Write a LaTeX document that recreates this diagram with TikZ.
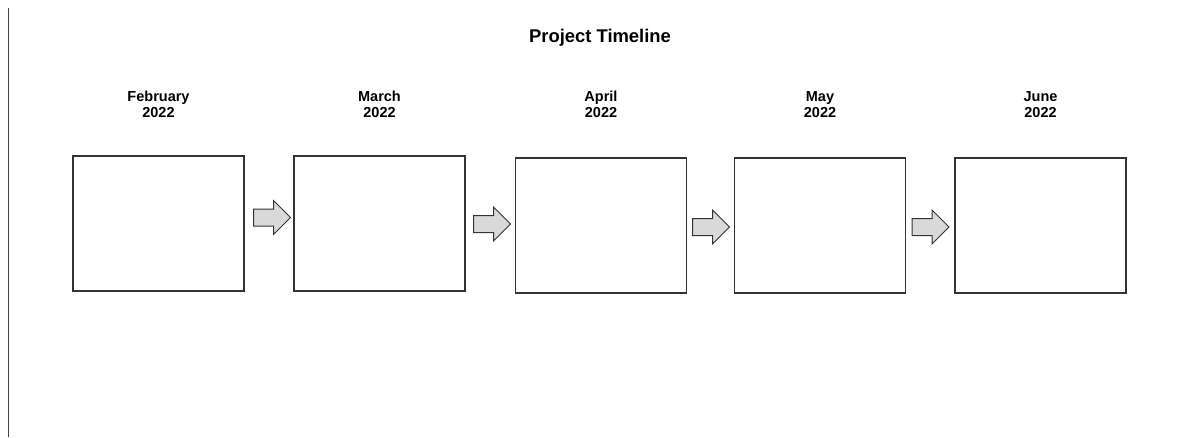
\documentclass[tikz,border=0pt]{standalone}
\usepackage{fontspec}
\setmainfont{Liberation Sans}
\definecolor{frame}{HTML}{333333}
\definecolor{arrowfill}{HTML}{D9D9D9}
\definecolor{rule}{HTML}{444444}
\tikzset{
  period/.style={draw=frame, line width=1.1pt, fill=white, rectangle, inner sep=0pt,
    minimum width=171pt, minimum height=135pt},
  monthlabel/.style={inner sep=0pt, align=center, font=\fontsize{14.5}{16.5}\selectfont\bfseries},
  titlelabel/.style={inner sep=0pt, font=\fontsize{18.4}{22}\selectfont\bfseries},
  stepper/.style={draw=frame, fill=arrowfill, line width=1pt, line join=miter}
}
% block arrow centred on a named coordinate: body 20 x 17, head 17 long, 34 wide
\newcommand{\blockarrow}[1]{%
  \draw[stepper] (#1) ++(-18.5,-8.5) -- ++(20,0) -- ++(0,-8.5) -- ++(17,17)
    -- ++(-17,17) -- ++(0,-8.5) -- ++(-20,0) -- cycle;}
\begin{document}
\begin{tikzpicture}[x=1pt, y=-1pt]
  \useasboundingbox (0,0) rectangle (1182,437);

  % left margin rule
  \coordinate (ruletop) at (8.5,8);
  \coordinate (rulebot) at (8.5,437);
  \draw[rule, line width=1.6pt] (ruletop) -- (rulebot);

  % title
  \node[titlelabel, anchor=base] (title) at (600,42) {Project Timeline};

  % period boxes
  \node[period] (b1) at (158.5,223.5) {};
  \node[period] (b2) at (379.5,223.5) {};
  \node[period] (b3) at (601,225.5) {};
  \node[period] (b4) at (820,225.5) {};
  \node[period] (b5) at (1040.5,225.5) {};

  % month headings
  \node[monthlabel] (l1) at (158.5,104.5) {February\\2022};
  \node[monthlabel] (l2) at (379.5,104.5) {March\\2022};
  \node[monthlabel] (l3) at (601,104.5) {April\\2022};
  \node[monthlabel] (l4) at (820,104.5) {May\\2022};
  \node[monthlabel] (l5) at (1040.5,104.5) {June\\2022};

  % block arrows between periods
  \coordinate (a1) at (272,217.5);
  \coordinate (a2) at (492,224);
  \coordinate (a3) at (711,227);
  \coordinate (a4) at (930.5,227);
  \blockarrow{a1}
  \blockarrow{a2}
  \blockarrow{a3}
  \blockarrow{a4}
\end{tikzpicture}
\end{document}
